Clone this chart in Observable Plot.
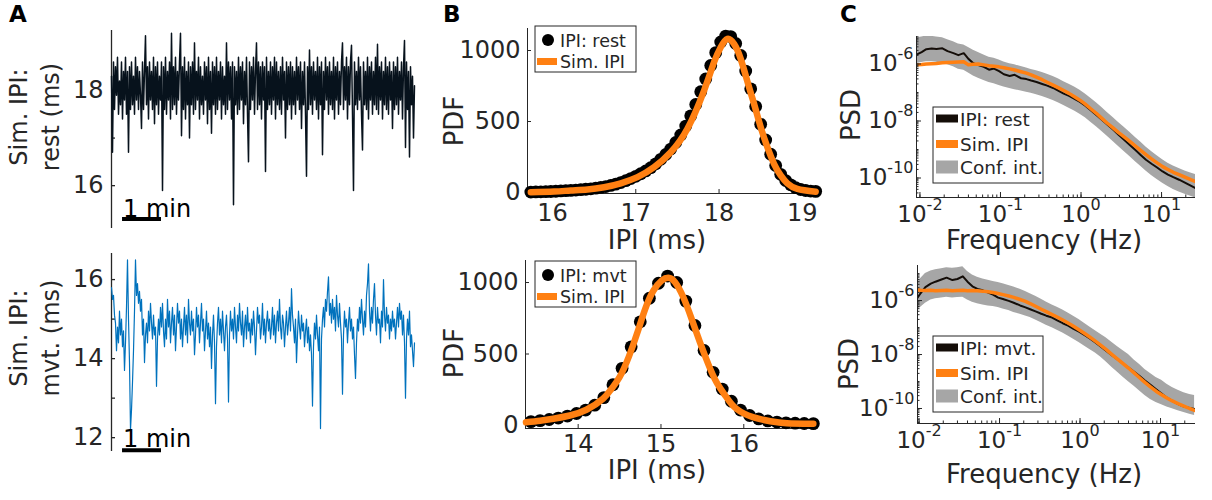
<!DOCTYPE html>
<html>
<head>
<meta charset="utf-8">
<script src="https://cdn.jsdelivr.net/npm/d3@7"></script>
<script src="https://cdn.jsdelivr.net/npm/@observablehq/plot@0.6"></script>
<style>
  body { margin: 0; background: #fff; }
  #fig { position: relative; width: 1212px; height: 500px; overflow: hidden; font-family: "DejaVu Sans", sans-serif; }
  .panel { position: absolute; }
  #overlay { position: absolute; left: 0; top: 0; pointer-events: none; }
</style>
</head>
<body>
<div id="fig"></div>
<script>
// ---------- A: simulated inter-pulse-interval traces (ms), one sample every 1.54 s ----------
const traceDt = 1.54;
const restTrace = [
  18.3, 16.7, 18.6, 17.6, 18.5, 17.9, 18.7, 17.5, 18.2, 17.7, 18.6, 17.4, 18.4, 17.8, 18.7, 17.5, 18.4, 16.7, 18.5, 17.6,
  18.6, 17.7, 18.3, 17.5, 18.7, 17.8, 18.5, 17.6, 18.4, 17.9, 17.2, 18.6, 17.6, 18.4, 19.15, 17.7, 18.5, 17.4, 18.6, 17.8,
  18.4, 17.6, 18.7, 17.3, 18.5, 17.7, 18.6, 17.5, 18.3, 17.8, 18.6, 15.9, 18.5, 17.6, 18.7, 17.5, 18.4, 17.8, 18.6, 17.4,
  19.2, 17.6, 18.5, 17.7, 18.7, 17.5, 18.4, 17.8, 18.6, 19.2, 17.05, 18.5, 17.6, 18.7, 17.4, 18.4, 17.7, 18.6, 17.0, 18.5,
  17.7, 18.6, 17.5, 19.0, 17.6, 18.4, 17.8, 18.7, 17.4, 18.5, 17.7, 18.3, 17.5, 18.6, 17.8, 18.5, 17.3, 18.7, 17.6, 18.4,
  17.1, 18.6, 17.7, 18.5, 17.5, 18.7, 17.6, 18.4, 17.8, 18.6, 17.4, 18.5, 17.7, 18.3, 17.5, 19.0, 17.6, 18.6, 17.8, 18.5,
  17.4, 18.6, 15.6, 18.5, 17.7, 18.4, 17.5, 18.7, 17.6, 18.5, 17.8, 18.6, 17.3, 18.4, 17.7, 18.7, 17.5, 16.5, 18.6, 17.6,
  18.5, 17.8, 18.7, 17.5, 18.4, 19.0, 17.6, 18.6, 17.7, 18.5, 17.4, 18.6, 17.8, 18.5, 16.3, 18.7, 17.6, 18.4, 17.7, 18.6,
  17.5, 18.5, 17.8, 18.7, 17.4, 18.6, 17.7, 18.4, 17.6, 18.5, 17.5, 18.7, 17.8, 18.4, 17.0, 18.6, 17.6, 18.5, 17.7, 18.6,
  17.4, 18.5, 17.7, 18.4, 17.5, 18.7, 17.8, 18.5, 17.6, 18.6, 17.2, 18.4, 17.7, 18.6, 17.5, 16.2, 18.5, 17.6, 18.85, 17.7,
  18.5, 17.5, 18.6, 17.8, 18.4, 17.6, 18.7, 17.4, 18.5, 17.7, 18.6, 16.65, 18.4, 17.6, 18.7, 17.8, 18.5, 17.5, 18.6, 17.7,
  18.4, 17.6, 18.7, 17.4, 18.5, 17.8, 18.6, 17.5, 18.4, 17.7, 18.6, 19.0, 17.6, 18.5, 17.8, 18.7, 17.4, 18.5, 17.7, 18.6,
  18.95, 17.5, 15.9, 18.6, 17.7, 18.4, 17.6, 18.7, 17.8, 18.5, 17.5, 16.75, 18.6, 17.7, 18.4, 17.6, 18.7, 17.4, 18.5, 17.8,
  18.6, 17.5, 18.4, 17.7, 18.7, 17.6, 18.97, 17.5, 18.5, 17.8, 18.6, 17.4, 18.4, 17.7, 18.7, 17.6, 18.5, 17.5, 18.6, 17.8,
  18.4, 17.2, 18.6, 17.6, 18.5, 17.7, 18.7, 17.5, 18.4, 17.8, 18.6, 17.4, 18.5, 19.05, 16.8, 18.6, 17.6, 18.4, 16.6, 18.5,
  17.7, 18.3, 17.0, 18.1
];
const mvtTrace = [
  15.8, 15.5, 15.6, 15.1, 14.9, 14.2, 14.8, 14.4, 15.2, 14.6, 15.0, 14.3, 14.7, 13.7, 14.4, 15.3, 16.5, 15.0, 13.9, 12.2,
  12.7, 13.4, 14.2, 15.2, 16.5, 15.6, 15.9, 15.4, 15.7, 15.2, 15.5, 14.6, 15.0, 13.9, 14.6, 14.9, 14.4, 15.2, 14.7, 15.4,
  14.9, 14.5, 15.1, 14.6, 14.8, 13.3, 14.5, 15.0, 14.6, 15.3, 14.8, 15.4, 14.7, 14.3, 15.0, 14.5, 15.5, 14.8, 15.2, 14.4,
  14.9, 15.3, 14.6, 15.1, 14.2, 14.8, 15.4, 14.9, 15.2, 14.5, 15.0, 14.3, 14.8, 15.3, 14.6, 15.1, 14.4, 15.5, 14.9, 14.6,
  15.2, 14.7, 15.0, 14.1, 14.6, 15.3, 14.8, 15.1, 14.4, 14.9, 15.4, 14.7, 15.0, 14.2, 14.7, 15.2, 14.5, 14.9, 14.3, 14.8,
  13.75, 14.6, 15.1, 14.4, 12.86, 14.3, 14.9, 15.3, 14.6, 15.0, 14.4, 15.2, 14.7, 14.2, 14.8, 15.1, 14.5, 12.9, 14.6, 15.2,
  14.7, 15.0, 14.5, 15.3, 14.8, 14.4, 15.1, 14.7, 15.4, 14.9, 14.6, 15.2, 14.3, 14.8, 15.1, 14.5, 15.3, 14.7, 14.9, 14.4,
  15.0, 14.6, 15.2, 14.8, 14.1, 14.7, 15.3, 14.9, 15.1, 14.5, 14.8, 15.4, 14.6, 15.0, 14.4, 14.9, 15.2, 14.7, 15.0, 14.5,
  14.8, 15.3, 14.6, 15.1, 14.4, 14.9, 15.2, 14.7, 15.5, 14.8, 14.5, 15.1, 14.9, 14.3, 14.8, 15.2, 14.6, 14.9, 15.3, 14.7,
  15.77, 15.1, 14.8, 14.4, 15.0, 13.9, 14.6, 15.2, 14.8, 14.5, 15.1, 14.7, 14.9, 14.3, 14.7, 15.0, 14.4, 14.8, 14.2, 14.6,
  14.1, 12.8, 14.3, 14.9, 14.5, 15.1, 14.6, 14.2, 14.8, 12.23, 14.5, 15.0, 15.3, 14.8, 15.5, 15.2, 15.7, 16.07, 15.1, 15.4,
  14.9, 15.5, 15.0, 15.3, 14.7, 15.6, 15.1, 14.8, 15.4, 14.9, 14.5, 13.1, 14.6, 15.2, 14.8, 15.0, 14.4, 14.9, 15.3, 14.7,
  15.0, 14.5, 14.8, 14.1, 13.5, 14.4, 15.0, 14.7, 15.3, 14.9, 15.5, 15.0, 14.6, 15.2, 14.8, 15.6, 15.9, 16.4, 15.2, 14.7,
  15.3, 14.9, 15.5, 15.9, 15.1, 14.6, 15.3, 14.9, 15.0, 14.4, 15.2, 14.8, 16.0, 15.1, 14.7, 15.3, 14.9, 15.1, 14.5, 15.0,
  14.7, 15.2, 14.8, 15.0, 14.5, 14.9, 15.3, 14.8, 15.4, 15.0, 15.2, 14.6, 15.1, 14.4, 13.0, 14.5, 15.0, 14.6, 15.2, 14.3,
  14.6, 14.2, 13.8, 14.4
];
const restYTicks = [16, 17, 18];
const restYLabels = ["16", "", "18"];
const mvtYTicks = [12, 13, 14, 15, 16];
const mvtYLabels = ["12", "", "14", "", "16"];

// ---------- B: IPI probability densities ----------
const pdfRestIpi = [15.74, 15.80, 15.86, 15.92, 15.98, 16.04, 16.10, 16.16, 16.22, 16.28, 16.34, 16.40, 16.46, 16.52, 16.58,
  16.64, 16.70, 16.76, 16.82, 16.88, 16.94, 17.00, 17.06, 17.12, 17.18, 17.24, 17.30, 17.36, 17.42, 17.48, 17.54, 17.60,
  17.66, 17.72, 17.78, 17.84, 17.90, 17.96, 18.02, 18.08, 18.14, 18.20, 18.26, 18.32, 18.38, 18.44, 18.50, 18.56, 18.62,
  18.68, 18.74, 18.80, 18.86, 18.92, 18.98, 19.04, 19.10, 19.16];
const pdfRest = [3, 4, 5, 6, 7, 9, 11, 13, 15, 17, 20, 23, 26, 31, 36, 42, 50, 59, 70, 83, 98, 114, 132, 152, 175, 202, 234,
  268, 306, 352, 405, 468, 540, 620, 710, 800, 895, 985, 1060, 1102, 1098, 1050, 965, 855, 730, 605, 480, 370, 270, 190,
  128, 84, 54, 34, 21, 14, 10, 8];
const simRestIpi = [15.74, 16.02, 16.22, 16.42, 16.62, 16.82, 17.02, 17.22, 17.42, 17.62, 17.82, 17.94, 18.02, 18.10, 18.18,
  18.26, 18.36, 18.42, 18.50, 18.58, 18.66, 18.74, 18.82, 18.94, 19.16];
const simRestPdf = [2, 7, 14, 21, 37, 65, 108, 178, 284, 449, 718, 918, 1023, 1082, 1047, 941, 742, 625, 460, 319, 202, 120,
  65, 26, 6];

const pdfMvtIpi = [13.43, 13.54, 13.65, 13.76, 13.87, 13.98, 14.09, 14.20, 14.31, 14.42, 14.53, 14.64, 14.75, 14.86, 14.97,
  15.08, 15.19, 15.30, 15.41, 15.52, 15.63, 15.74, 15.85, 15.96, 16.07, 16.18, 16.29, 16.40, 16.51, 16.62, 16.73, 16.84];
const pdfMvt = [27, 34, 42, 52, 66, 84, 108, 142, 195, 285, 400, 550, 725, 890, 995, 1045, 1000, 870, 700, 525, 372, 255,
  170, 108, 70, 46, 32, 24, 19, 16, 14, 13];
const simMvtIpi = [13.37, 13.54, 13.70, 13.90, 14.10, 14.30, 14.40, 14.50, 14.61, 14.71, 14.81, 14.91, 15.01, 15.09, 15.17,
  15.27, 15.37, 15.47, 15.57, 15.67, 15.79, 15.91, 16.11, 16.32, 16.52, 16.84];
const simMvtPdf = [22, 33, 47, 70, 110, 187, 255, 338, 478, 641, 816, 944, 1014, 1033, 1002, 897, 746, 583, 431, 303, 198,
  117, 58, 30, 16, 12];
const pdfYTicks = [0, 500, 1000];
const pdfRestXTicks = [16, 17, 18, 19];
const pdfMvtXTicks = [14, 15, 16];

// ---------- C: power spectral densities (log10 of PSD) ----------
const psdFreq = [0.0092, 0.0105, 0.012, 0.014, 0.016, 0.019, 0.022, 0.026, 0.030, 0.035, 0.040, 0.046, 0.053, 0.062,
  0.072, 0.083, 0.096, 0.11, 0.13, 0.15, 0.18, 0.21, 0.24, 0.28, 0.33, 0.38, 0.45, 0.52, 0.61, 0.71, 0.83, 0.97, 1.13,
  1.32, 1.55, 1.8, 2.1, 2.5, 2.9, 3.4, 4.0, 4.7, 5.5, 6.4, 7.5, 8.8, 10.3, 12, 14, 16.5, 19.5, 23, 26.5];
const restPsdLog = [-5.66, -5.58, -5.48, -5.46, -5.47, -5.45, -5.55, -5.62, -5.69, -5.62,
  -5.82, -5.97, -6.04, -6.10, -6.20, -6.16, -6.25, -6.36, -6.42, -6.38,
  -6.50, -6.53, -6.58, -6.63, -6.70, -6.76, -6.84, -6.93, -7.04, -7.12,
  -7.22, -7.33, -7.46, -7.62, -7.79, -7.95, -8.11, -8.30, -8.47, -8.65,
  -8.83, -9.01, -9.19, -9.36, -9.50, -9.63, -9.77, -9.88, -9.97, -10.06,
  -10.16, -10.27, -10.36];
const restSimLog = [-6.03, -6.02, -6.00, -5.99, -5.98, -5.96, -5.95, -5.94, -5.93, -5.92,
  -6.03, -6.01, -6.00, -6.03, -6.06, -6.08, -6.10, -6.13, -6.17, -6.21,
  -6.27, -6.32, -6.38, -6.46, -6.55, -6.64, -6.74, -6.83, -6.93, -7.03,
  -7.15, -7.27, -7.41, -7.57, -7.73, -7.90, -8.07, -8.24, -8.40, -8.55,
  -8.71, -8.87, -9.03, -9.18, -9.33, -9.47, -9.60, -9.70, -9.80, -9.88,
  -9.97, -10.06, -10.13];
const restUpLog = [-5.08, -5.05, -5.02, -5.03, -5.05, -5.08, -5.15, -5.22, -5.30, -5.33,
  -5.42, -5.52, -5.60, -5.68, -5.76, -5.80, -5.86, -5.93, -5.99, -6.03,
  -6.09, -6.14, -6.19, -6.24, -6.30, -6.36, -6.44, -6.52, -6.62, -6.71,
  -6.81, -6.92, -7.05, -7.20, -7.36, -7.52, -7.69, -7.88, -8.04, -8.21,
  -8.39, -8.57, -8.74, -8.91, -9.07, -9.22, -9.36, -9.48, -9.58, -9.67,
  -9.75, -9.82, -9.88];
const restLoLog = [-5.98, -5.95, -5.92, -5.92, -5.94, -5.97, -6.03, -6.10, -6.18, -6.22,
  -6.32, -6.42, -6.50, -6.58, -6.65, -6.69, -6.75, -6.81, -6.86, -6.90,
  -6.95, -6.99, -7.03, -7.08, -7.14, -7.20, -7.28, -7.36, -7.46, -7.55,
  -7.65, -7.76, -7.89, -8.04, -8.20, -8.36, -8.53, -8.72, -8.89, -9.06,
  -9.24, -9.42, -9.59, -9.75, -9.91, -10.05, -10.18, -10.30, -10.40, -10.49,
  -10.57, -10.64, -10.70];
const mvtPsdLog = [-5.97, -5.72, -5.50, -5.37, -5.30, -5.22, -5.15, -5.24, -5.20, -5.10,
  -5.30, -5.47, -5.57, -5.62, -5.70, -5.78, -5.89, -5.94, -6.01, -6.08,
  -6.18, -6.25, -6.32, -6.40, -6.49, -6.56, -6.63, -6.73, -6.84, -6.93,
  -7.05, -7.15, -7.27, -7.40, -7.55, -7.70, -7.86, -8.03, -8.17, -8.33,
  -8.48, -8.64, -8.80, -8.96, -9.12, -9.29, -9.45, -9.60, -9.72, -9.84,
  -9.93, -9.98, -10.02];
const mvtSimLog = [-5.60, -5.62, -5.63, -5.62, -5.64, -5.63, -5.62, -5.64, -5.63, -5.62,
  -5.64, -5.63, -5.64, -5.65, -5.67, -5.70, -5.74, -5.78, -5.83, -5.88,
  -5.96, -6.03, -6.11, -6.21, -6.32, -6.41, -6.52, -6.61, -6.72, -6.83,
  -6.95, -7.08, -7.21, -7.35, -7.50, -7.65, -7.81, -8.00, -8.16, -8.33,
  -8.50, -8.68, -8.86, -9.03, -9.20, -9.36, -9.49, -9.61, -9.72, -9.82,
  -9.91, -10.00, -10.07];
const mvtUpLog = [-5.40, -5.18, -5.00, -4.90, -4.86, -4.82, -4.78, -4.80, -4.78, -4.75,
  -4.92, -5.05, -5.14, -5.20, -5.25, -5.29, -5.33, -5.38, -5.44, -5.50,
  -5.58, -5.66, -5.75, -5.84, -5.95, -6.05, -6.16, -6.25, -6.35, -6.46,
  -6.58, -6.70, -6.84, -6.98, -7.12, -7.25, -7.38, -7.55, -7.70, -7.85,
  -8.00, -8.20, -8.37, -8.55, -8.70, -8.85, -8.95, -9.10, -9.22, -9.32,
  -9.42, -9.48, -9.52];
const mvtLoLog = [-6.40, -6.25, -6.10, -5.98, -5.93, -5.90, -5.88, -5.90, -5.89, -5.88,
  -5.98, -6.06, -6.12, -6.16, -6.20, -6.22, -6.26, -6.31, -6.37, -6.44,
  -6.51, -6.57, -6.63, -6.72, -6.82, -6.91, -7.01, -7.10, -7.20, -7.31,
  -7.43, -7.55, -7.68, -7.81, -7.94, -8.09, -8.27, -8.48, -8.65, -8.83,
  -9.01, -9.18, -9.35, -9.52, -9.67, -9.78, -9.86, -9.94, -10.01, -10.08,
  -10.15, -10.21, -10.26];
const psdXTicks = [0.01, 0.1, 1, 10];
const psdYTicks = [1e-10, 1e-8, 1e-6];

// ---------- legend and axis texts ----------
const legendRest = ["IPI: rest", "Sim. IPI"];
const legendMvt = ["IPI: mvt", "Sim. IPI"];
const legendPsdRest = ["IPI: rest", "Sim. IPI", "Conf. int."];
const legendPsdMvt = ["IPI: mvt.", "Sim. IPI", "Conf. int."];

// ---------- styling ----------
const FONT = '"DejaVu Sans", sans-serif';
const INK = "#262626";
const ORANGE = "#ff8012";
const BLUE = "#0072bd";
const NAVY = "#07121c";
const DARK = "#140d08";
const GREY = "#a6a6a6";
const baseStyle = {fontFamily: FONT, fontSize: "24px", color: INK, background: "transparent", overflow: "visible"};

const fig = document.getElementById("fig");
function mount(svg, left, top, w, h) {
  const d = document.createElement("div");
  d.className = "panel";
  Object.assign(d.style, {left: left + "px", top: top + "px", width: w + "px", height: h + "px"});
  d.appendChild(svg);
  fig.appendChild(d);
}
const labelOf = (ticks, labels) => d => labels[ticks.indexOf(d)];
const plain = d => String(d);

// ---------- panel A ----------
function tracePanel(values, color, width, yDomain, ticks, labels, barY, size) {
  const rows = values.map((v, i) => ({t: i * traceDt, v}));
  return Plot.plot({
    width: 420, height: size.h,
    marginLeft: 111, marginRight: 5, marginTop: size.mt, marginBottom: size.mb,
    style: baseStyle,
    x: {domain: [0, values.length * traceDt], axis: null},
    y: {domain: yDomain},
    marks: [
      Plot.ruleX([0], {stroke: INK, strokeWidth: 1.3}),
      Plot.axisY({ticks, tickFormat: labelOf(ticks, labels), tickSize: -4, tickPadding: 12, label: null, stroke: INK, strokeWidth: 1.3}),
      Plot.line(rows, {x: "t", y: "v", stroke: color, strokeWidth: width}),
      // 1-minute scale bar
      Plot.ruleY([barY], {x1: 17, x2: 77, stroke: "#000", strokeWidth: 4})
    ]
  });
}
mount(tracePanel(restTrace, NAVY, 1.5, [15.1, 19.26], restYTicks, restYLabels, 15.30, {h: 240, mt: 30, mb: 12}), 0, 0, 420, 240);
mount(tracePanel(mvtTrace, BLUE, 1.2, [11.65, 16.66], mvtYTicks, mvtYLabels, 11.68, {h: 260, mt: 13, mb: 49}), 0, 240, 420, 260);

// ---------- panel B ----------
function pdfPanel(dotX, dotY, simX, simY, xDomain, yDomain, xTicks, m) {
  const dots = dotX.map((x, i) => ({x, y: dotY[i]}));
  const sim = simX.map((x, i) => ({x, y: simY[i]}));
  return Plot.plot({
    width: 420, height: 250,
    marginLeft: m.ml, marginRight: m.mr, marginTop: m.mt, marginBottom: m.mb,
    style: baseStyle,
    x: {domain: xDomain},
    y: {domain: yDomain},
    marks: [
      Plot.ruleX([xDomain[0]], {stroke: INK, strokeWidth: 1}),
      Plot.ruleY([yDomain[0]], {stroke: INK, strokeWidth: 1}),
      Plot.axisY({ticks: pdfYTicks, tickFormat: plain, tickSize: -4, tickPadding: 11, label: null, stroke: INK}),
      Plot.axisX({ticks: xTicks, tickFormat: plain, tickSize: -4, tickPadding: m.xpad, label: null, stroke: INK}),
      Plot.dot(dots, {x: "x", y: "y", r: 6.4, fill: "#000"}),
      Plot.line(sim, {x: "x", y: "y", stroke: ORANGE, strokeWidth: 6.5, curve: "natural", strokeLinecap: "round"})
    ]
  });
}
mount(pdfPanel(pdfRestIpi, pdfRest, simRestIpi, simRestPdf, [15.70, 19.17], [-7, 1155], pdfRestXTicks,
  {ml: 107, mr: 24, mt: 28, mb: 57, xpad: 14}), 420, 0, 420, 250);
mount(pdfPanel(pdfMvtIpi, pdfMvt, simMvtIpi, simMvtPdf, [13.364, 16.866], [-21, 1154], pdfMvtXTicks,
  {ml: 105, mr: 25, mt: 10, mb: 72, xpad: 10}), 420, 250, 420, 250);

// ---------- panel C ----------
const pow10Label = d => "10^" + Math.round(Math.log10(d));
function minorTicks(domain) {
  const [a, b] = domain;
  return d3.range(Math.floor(Math.log10(a)), Math.ceil(Math.log10(b)) + 1)
    .flatMap(k => d3.range(1, 10).map(m => m * Math.pow(10, k)))
    .filter(t => t >= a && t <= b);
}
function superscriptPowers(svg) {
  svg.querySelectorAll("text").forEach(t => {
    const m = /^10\^(-?\d+)$/.exec(t.textContent);
    if (!m) return;
    t.textContent = "10";
    const s = document.createElementNS("http://www.w3.org/2000/svg", "tspan");
    s.setAttribute("dy", "-12");
    s.setAttribute("font-size", "16");
    s.textContent = m[1];
    t.appendChild(s);
  });
  return svg;
}
function psdPanel(dataLog, simLog, upLog, loLog, xDomain, yDomain, m) {
  const rows = psdFreq.map((f, i) => ({
    f, data: Math.pow(10, dataLog[i]), sim: Math.pow(10, simLog[i]),
    up: Math.pow(10, upLog[i]), lo: Math.pow(10, loLog[i])
  }));
  const svg = Plot.plot({
    width: 382, height: 250,
    marginLeft: m.ml, marginRight: 17, marginTop: m.mt, marginBottom: m.mb,
    style: baseStyle,
    x: {type: "log", domain: xDomain},
    y: {type: "log", domain: yDomain},
    marks: [
      Plot.areaY(rows, {x: "f", y1: "lo", y2: "up", fill: GREY, clip: true}),
      Plot.line(rows, {x: "f", y: "data", stroke: DARK, strokeWidth: 2, clip: true}),
      Plot.line(rows, {x: "f", y: "sim", stroke: ORANGE, strokeWidth: 3.5, clip: true}),
      Plot.ruleX([xDomain[0]], {stroke: INK, strokeWidth: 1}),
      Plot.ruleY([yDomain[0]], {stroke: INK, strokeWidth: 1}),
      Plot.axisX({ticks: minorTicks(xDomain), tickSize: -2.5, tickFormat: () => "", label: null, stroke: INK}),
      Plot.axisX({ticks: psdXTicks, tickSize: -5, tickPadding: 13, tickFormat: pow10Label, label: null, stroke: INK, fontSize: 23}),
      Plot.axisY({ticks: minorTicks(yDomain), tickSize: -2.5, tickFormat: () => "", label: null, stroke: INK}),
      Plot.axisY({ticks: psdYTicks, tickSize: -5, tickPadding: 8, tickFormat: pow10Label, label: null, stroke: INK, fontSize: 23})
    ]
  });
  return superscriptPowers(svg);
}
mount(psdPanel(restPsdLog, restSimLog, restUpLog, restLoLog, [0.00906, 26.4], [Math.pow(10, -10.684), Math.pow(10, -5.035)],
  {ml: 86, mt: 36, mb: 53}), 830, 0, 382, 250);
mount(psdPanel(mvtPsdLog, mvtSimLog, mvtUpLog, mvtLoLog, [0.00957, 27.2], [Math.pow(10, -10.556), Math.pow(10, -4.70)],
  {ml: 87, mt: 15, mb: 77}), 830, 250, 382, 250);

// ---------- labels, scale-bar text and legends ----------
const ov = d3.select(fig).append("svg").attr("id", "overlay")
  .attr("width", 1212).attr("height", 500)
  .attr("font-family", FONT).attr("fill", INK);

function text(x, y, s, size, extra = {}) {
  const t = ov.append("text").attr("x", x).attr("y", y).attr("font-size", size).text(s);
  for (const [k, v] of Object.entries(extra)) t.attr(k, v);
  return t;
}
function vtext(x, y, s, size) {
  return ov.append("text").attr("transform", `translate(${x},${y}) rotate(-90)`)
    .attr("text-anchor", "middle").attr("font-size", size).text(s);
}

// panel letters
text(9, 22, "A", 23, {"font-weight": "bold", fill: "#000"});
text(443, 22, "B", 23, {"font-weight": "bold", fill: "#000"});
text(840, 22, "C", 23, {"font-weight": "bold", fill: "#000"});

// A
vtext(27, 117, "Sim. IPI:", 24);
vtext(59, 117, "rest (ms)", 24);
vtext(27, 338, "Sim. IPI:", 24);
vtext(59, 338, "mvt. (ms)", 24);
text(123, 217, "1 min", 24, {fill: "#000"});
text(123, 447, "1 min", 24, {fill: "#000"});

// B
vtext(463, 121, "PDF", 26);
vtext(463, 353, "PDF", 26);
text(657, 249, "IPI (ms)", 26, {"text-anchor": "middle"});
text(657, 479, "IPI (ms)", 26, {"text-anchor": "middle"});

// C
vtext(860, 115, "PSD", 26);
vtext(858, 364, "PSD", 26);
text(1044, 249, "Frequency (Hz)", 26, {"text-anchor": "middle"});
text(1044, 483, "Frequency (Hz)", 26, {"text-anchor": "middle"});

function pdfLegend(x, y, labels) {
  ov.append("rect").attr("x", x).attr("y", y).attr("width", 101).attr("height", 46)
    .attr("fill", "#fff").attr("stroke", INK).attr("stroke-width", 1);
  ov.append("circle").attr("cx", x + 13).attr("cy", y + 14).attr("r", 6).attr("fill", "#000");
  text(x + 25, y + 21, labels[0], 17.5);
  ov.append("line").attr("x1", x + 2).attr("x2", x + 22).attr("y1", y + 35.5).attr("y2", y + 35.5)
    .attr("stroke", ORANGE).attr("stroke-width", 7);
  text(x + 25, y + 42, labels[1], 17.5);
}
pdfLegend(535, 26, legendRest);
pdfLegend(535, 261, legendMvt);

function psdLegend(x, y, labels) {
  ov.append("rect").attr("x", x).attr("y", y).attr("width", 110).attr("height", 76)
    .attr("fill", "#fff").attr("stroke", INK).attr("stroke-width", 1);
  const swatches = [{c: DARK, h: 8, cy: 11.5}, {c: ORANGE, h: 8, cy: 37}, {c: GREY, h: 13, cy: 60}];
  swatches.forEach((s, i) => {
    ov.append("rect").attr("x", x + 3).attr("y", y + s.cy - s.h / 2).attr("width", 22).attr("height", s.h).attr("fill", s.c);
    text(x + 27, y + s.cy + 7, labels[i], 18.5);
  });
}
psdLegend(933, 107, legendPsdRest);
psdLegend(933, 336, legendPsdMvt);
</script>
</body>
</html>
